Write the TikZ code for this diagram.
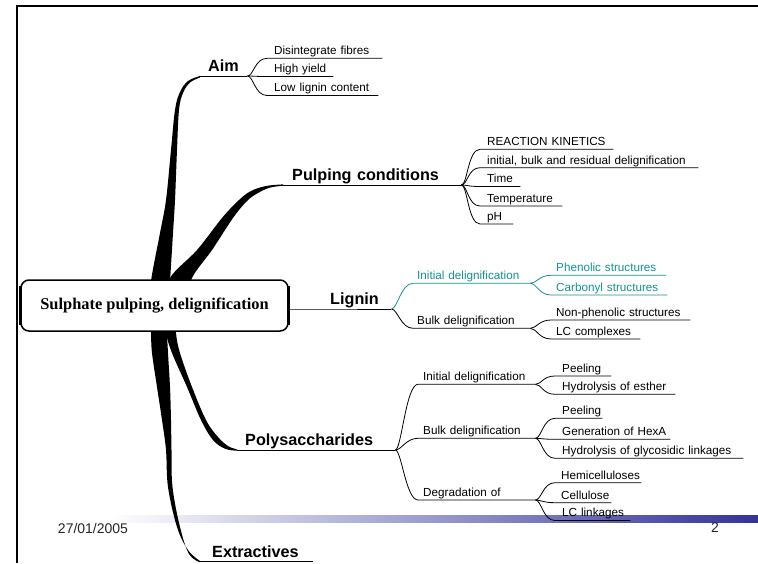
\documentclass[tikz,border=0pt]{standalone}
\usepackage{fontspec}
\setmainfont{Liberation Sans}
\newfontfamily\cserif{Liberation Serif}
\definecolor{tealc}{RGB}{20,145,145}
\definecolor{barblue}{RGB}{51,51,153}
\newcommand\fanout[3][]{\draw[link,#1] (#2.south east) .. controls +(6,0) and +(-12,0) .. (#3.south west) -- (#3.south east);}
\begin{document}
\begin{tikzpicture}[x=1pt,y=-1pt,
  leaf/.style={anchor=south west, inner xsep=0pt, inner ysep=3.4pt, text depth=0pt, text width=#1, align=left, font=\fontsize{11.7}{14}\selectfont, execute at begin node={\hyphenpenalty=10000\exhyphenpenalty=10000}},
  topic/.style={anchor=south west, inner xsep=0pt, inner ysep=4.3pt, text depth=0pt, text width=#1, align=left, font=\fontsize{16.2}{19}\selectfont\bfseries, execute at begin node={\hyphenpenalty=10000}},
  link/.style={line width=0.8pt},
  tlink/.style={line width=1pt},
  foot/.style={font=\fontsize{14}{16}\selectfont, text=black!85, inner sep=0pt}]
\useasboundingbox (0,0) rectangle (758,563);
% footer bar
\shade[left color=white,right color=barblue] (110,515) rectangle (758,522.5);
% frame
\draw[line width=2.2pt] (758,6) -- (17,6) -- (17,563);
% thick tapered branches
\fill plot[smooth,tension=0.6] coordinates {(150,305) (151,281) (160,233) (166,200) (171,150) (175,110) (180,92) (188,81) (200,76)} -- plot[smooth,tension=0.6] coordinates {(200,77.5) (190,82.5) (183,93) (179,110) (177,150) (175,200) (173,233) (170,281) (168,305)} -- cycle;
\fill plot[smooth,tension=0.6] coordinates {(165,305) (170,278) (197,250) (222,218) (239,200) (251,191) (266,186) (283,184.4)} -- plot[smooth,tension=0.6] coordinates {(283,185.8) (270,187.6) (258,193) (247,201) (233,218) (212,250) (192,278) (185,305)} -- cycle;
\fill plot[smooth,tension=0.6] coordinates {(175,310) (176,333) (180,353) (192,387) (206,420) (218,437) (228,446) (237,449.4)} -- plot[smooth,tension=0.6] coordinates {(237,450.7) (225,448.7) (213,440) (201,420) (187,387) (172,353) (166,333) (163,310)} -- cycle;
\fill plot[smooth,tension=0.6] coordinates {(150,310) (151,333) (152,353) (157,387) (162,420) (166,450) (168,487) (177,527) (188,550) (200,561)} -- plot[smooth,tension=0.6] coordinates {(200,562.3) (189,554) (180,527) (172.5,487) (171.5,450) (171,420) (170,387) (168,353) (167,333) (166,310)} -- cycle;
% central box
\node[draw, line width=1.5pt, rounded corners=8pt, fill=white, minimum width=267pt, minimum height=51pt, inner sep=0pt, font=\cserif\bfseries\fontsize{16.4}{19}\selectfont] (box) at (154.5,305.5) {Sulphate pulping, delignification};
\draw[line width=2.8pt] ([yshift=-7pt]box.north west) -- ([yshift=7pt]box.south west);
\draw[line width=2.8pt] ([yshift=-7pt]box.north east) -- ([yshift=7pt]box.south east);
% main topics
\node[topic=47pt] (aim) at (200,76) {\hspace*{8pt}Aim};
\node[topic=178pt] (pulp) at (283,185) {\hspace*{9pt}Pulping conditions};
\node[topic=66pt] (lig) at (325,309) {\hspace*{5pt}Lignin};
\node[topic=158pt] (poly) at (237,450) {\hspace*{8pt}Polysaccharides};
\node[topic=113pt] (extr) at (200,561.5) {\hspace*{12pt}Extractives};
\draw[tlink] (aim.south west) -- (aim.south east);
\draw[tlink] (pulp.south west) -- (pulp.south east);
\draw[tlink] (box.east |- lig.south) -- (lig.south west) -- (lig.south east);
\draw[tlink] (poly.south west) -- (poly.south east);
\draw[tlink] (extr.south west) -- (extr.south east);
% Aim
\node[leaf=115pt] (a1) at (267,58.3) {\hspace*{7pt}Disintegrate fibres};
\node[leaf=66pt] (a2) at (267,76.5) {\hspace*{7pt}High yield};
\node[leaf=111pt] (a3) at (267,95.5) {\hspace*{7pt}Low lignin content};
\fanout{aim}{a1}\fanout{aim}{a2}\fanout{aim}{a3}
% Pulping conditions
\node[leaf=133pt] (p1) at (480,149.3) {\hspace*{7pt}REACTION KINETICS};
\node[leaf=218pt] (p2) at (480,167.7) {\hspace*{7pt}initial, bulk and residual delignification};
\node[leaf=40pt] (p3) at (480,186.5) {\hspace*{7pt}Time};
\node[leaf=82pt] (p4) at (480,206) {\hspace*{7pt}Temperature};
\node[leaf=33pt] (p5) at (480,224) {\hspace*{7pt}pH};
\fanout{pulp}{p1}\fanout{pulp}{p2}\fanout{pulp}{p3}\fanout{pulp}{p4}\fanout{pulp}{p5}
% Lignin
\node[leaf=117pt, text=tealc] (l1) at (413,283.3) {\hspace*{4pt}Initial delignification};
\node[leaf=117pt] (l2) at (413,328.3) {\hspace*{4pt}Bulk delignification};
\fanout[tealc]{lig}{l1}\fanout{lig}{l2}
\node[leaf=115pt, text=tealc] (l1a) at (551,275.3) {\hspace*{5pt}Phenolic structures};
\node[leaf=116pt, text=tealc] (l1b) at (551,295) {\hspace*{5pt}Carbonyl structures};
\fanout[tealc]{l1}{l1a}\fanout[tealc]{l1}{l1b}
\node[leaf=139pt] (l2a) at (551,320) {\hspace*{5pt}Non-phenolic structures};
\node[leaf=89pt] (l2b) at (551,339) {\hspace*{5pt}LC complexes};
\fanout{l2}{l2a}\fanout{l2}{l2b}
% Polysaccharides
\node[leaf=117pt] (s1) at (418,384.3) {\hspace*{5pt}Initial delignification};
\node[leaf=117pt] (s2) at (418,438.3) {\hspace*{5pt}Bulk delignification};
\node[leaf=117pt] (s3) at (418,500) {\hspace*{5pt}Degradation of};
\fanout{poly}{s1}\fanout{poly}{s2}\fanout{poly}{s3}
\node[leaf=56pt] (s1a) at (555,376) {\hspace*{7pt}Peeling};
\node[leaf=120pt] (s1b) at (555,394.3) {\hspace*{7pt}Hydrolysis of esther};
\fanout{s1}{s1a}\fanout{s1}{s1b}
\node[leaf=47pt] (s2a) at (555,418.3) {\hspace*{7pt}Peeling};
\node[leaf=115pt] (s2b) at (555,439.3) {\hspace*{7pt}Generation of HexA};
\node[leaf=188pt] (s2c) at (555,458.3) {\hspace*{7pt}Hydrolysis of glycosidic linkages};
\fanout{s2}{s2a}\fanout{s2}{s2b}\fanout{s2}{s2c}
\node[leaf=86pt] (s3a) at (555,482.7) {\hspace*{6pt}Hemicelluloses};
\node[leaf=56pt] (s3b) at (555,502.7) {\hspace*{6pt}Cellulose};
\node[leaf=75pt] (s3c) at (555,520.5) {\hspace*{7pt}LC linkages};
\fanout{s3}{s3a}\fanout{s3}{s3b}\fanout{s3}{s3c}
% footer
\node[foot] (date) at (93,528) {27/01/2005};
\node[foot] (page) at (715,528) {2};
\end{tikzpicture}
\end{document}
